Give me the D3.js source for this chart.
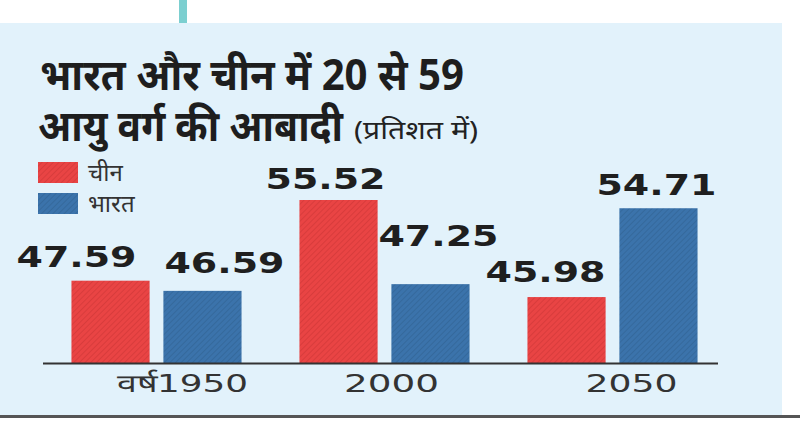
<!DOCTYPE html>
<html>
<head>
<meta charset="utf-8">
<script src="https://cdn.jsdelivr.net/npm/d3@7"></script>
<style>
  html, body { margin: 0; padding: 0; background: #ffffff; }
  svg { display: block; }
</style>
</head>
<body>
<svg id="chart" width="800" height="425"></svg>
<script>
// ---- data ----
const years = ["1950", "2000", "2050"];
const yearLabels = ["वर्ष1950", "2000", "2050"];
const seriesNames = ["चीन", "भारत"];
const china = [47.59, 55.52, 45.98];
const india = [46.59, 47.25, 54.71];
const titleLine1 = "भारत और चीन में 20 से 59";
const titleLine2 = "आयु वर्ग की आबादी";
const titleUnit = "(प्रतिशत में)";

// ---- layout ----
const svg = d3.select("#chart");
const colors = { "चीन": "#e94444", "भारत": "#3b73ab" };
const hatch = { "चीन": "#c93434", "भारत": "#2f6090" };

const defs = svg.append("defs");
seriesNames.forEach((s, i) => {
  const p = defs.append("pattern")
    .attr("id", "hatch" + i)
    .attr("patternUnits", "userSpaceOnUse")
    .attr("width", 4).attr("height", 4)
    .attr("patternTransform", "rotate(45)");
  p.append("rect").attr("width", 4).attr("height", 4).attr("fill", colors[s]);
  p.append("rect").attr("width", 1).attr("height", 4).attr("fill", hatch[s]).attr("opacity", 0.55);
});

// background panel
svg.append("rect").attr("x", 0).attr("y", 23).attr("width", 782).attr("height", 392).attr("fill", "#e2f2fb");
// teal top marker
svg.append("rect").attr("x", 179).attr("y", 0).attr("width", 8).attr("height", 23).attr("fill", "#7ccfd0");
// bottom rule
svg.append("rect").attr("x", 0).attr("y", 415).attr("width", 800).attr("height", 3).attr("fill", "#555");

// title (one text block with three runs)
const tfont = "'Noto Sans', 'DejaVu Sans', sans-serif";
const title = svg.append("text")
  .attr("font-family", tfont).attr("fill", "#1e1e1e");
title.append("tspan").attr("x", 40).attr("y", 90)
  .attr("font-weight", "bold").attr("font-size", 43)
  .attr("textLength", 424).attr("lengthAdjust", "spacingAndGlyphs")
  .text(titleLine1);
title.append("tspan").attr("x", 38).attr("y", 141)
  .attr("font-weight", "bold").attr("font-size", 43)
  .attr("textLength", 305).attr("lengthAdjust", "spacingAndGlyphs")
  .text(titleLine2);
title.append("tspan").attr("x", 354).attr("y", 139)
  .attr("font-weight", "normal").attr("font-size", 25).attr("fill", "#222")
  .attr("textLength", 124).attr("lengthAdjust", "spacingAndGlyphs")
  .text(titleUnit);

// scales
const x0 = d3.scaleBand().domain(years).range([42.5, 726.5]).paddingInner(0.254).paddingOuter(0.127);
const x1 = d3.scaleBand().domain(seriesNames).range([0, x0.bandwidth()]).paddingInner(0.15);
const y = d3.scaleLinear().domain([39.5, 55.52]).range([363, 200]);

const rows = years.map((yr, i) => ({ year: yr, values: [china[i], india[i]] }));

const g = svg.append("g");
rows.forEach((r) => {
  r.values.forEach((v, j) => {
    const s = seriesNames[j];
    g.append("rect")
      .attr("x", x0(r.year) + x1(s))
      .attr("y", y(v))
      .attr("width", x1.bandwidth())
      .attr("height", y(y.domain()[0]) - y(v))
      .attr("fill", "url(#hatch" + j + ")");
  });
});

// value labels (nudges are label placement, not data)
const nudge = [[[-34, -14], [22, -18]], [[-13, -11], [8, -38]], [[-21, -15], [-2, -13]]];
rows.forEach((r, i) => {
  r.values.forEach((v, j) => {
    const s = seriesNames[j];
    const cx = x0(r.year) + x1(s) + x1.bandwidth() / 2;
    g.append("text")
      .attr("x", cx + nudge[i][j][0] - 60)
      .attr("y", y(v) + nudge[i][j][1])
      .attr("font-family", "'DejaVu Sans', Verdana, sans-serif")
      .attr("font-weight", "bold").attr("font-size", 28)
      .attr("fill", "#1f1f1f")
      .attr("textLength", 120).attr("lengthAdjust", "spacingAndGlyphs")
      .text(v.toFixed(2));
  });
});

// axis
const axis = d3.axisBottom(x0).tickSize(0).tickFormat((d, i) => yearLabels[i]);
const ax = svg.append("g").attr("transform", "translate(0,363)").call(axis);
ax.select(".domain").remove();
svg.append("line").attr("x1", 43).attr("x2", 718).attr("y1", 363.5).attr("y2", 363.5)
  .attr("stroke", "#333").attr("stroke-width", 2);
const labelDx = [26, 7, 19];
const labelW = [131, 95, 92];
ax.selectAll(".tick text")
  .attr("font-family", "'DejaVu Sans', Verdana, sans-serif")
  .attr("font-size", 25).attr("fill", "#333")
  .attr("dy", 0).attr("y", 29)
  .attr("text-anchor", "start")
  .attr("x", (d, i) => labelDx[i] - labelW[i] / 2)
  .attr("textLength", (d, i) => labelW[i]).attr("lengthAdjust", "spacingAndGlyphs");

// legend
const leg = svg.append("g");
seriesNames.forEach((s, j) => {
  leg.append("rect").attr("x", 38).attr("y", 162 + j * 31).attr("width", 40).attr("height", 21)
    .attr("fill", "url(#hatch" + j + ")");
  leg.append("text").attr("x", 88).attr("y", 181 + j * 31)
    .attr("font-family", tfont).attr("font-size", 24).attr("fill", "#333")
    .text(s);
});
</script>
</body>
</html>
